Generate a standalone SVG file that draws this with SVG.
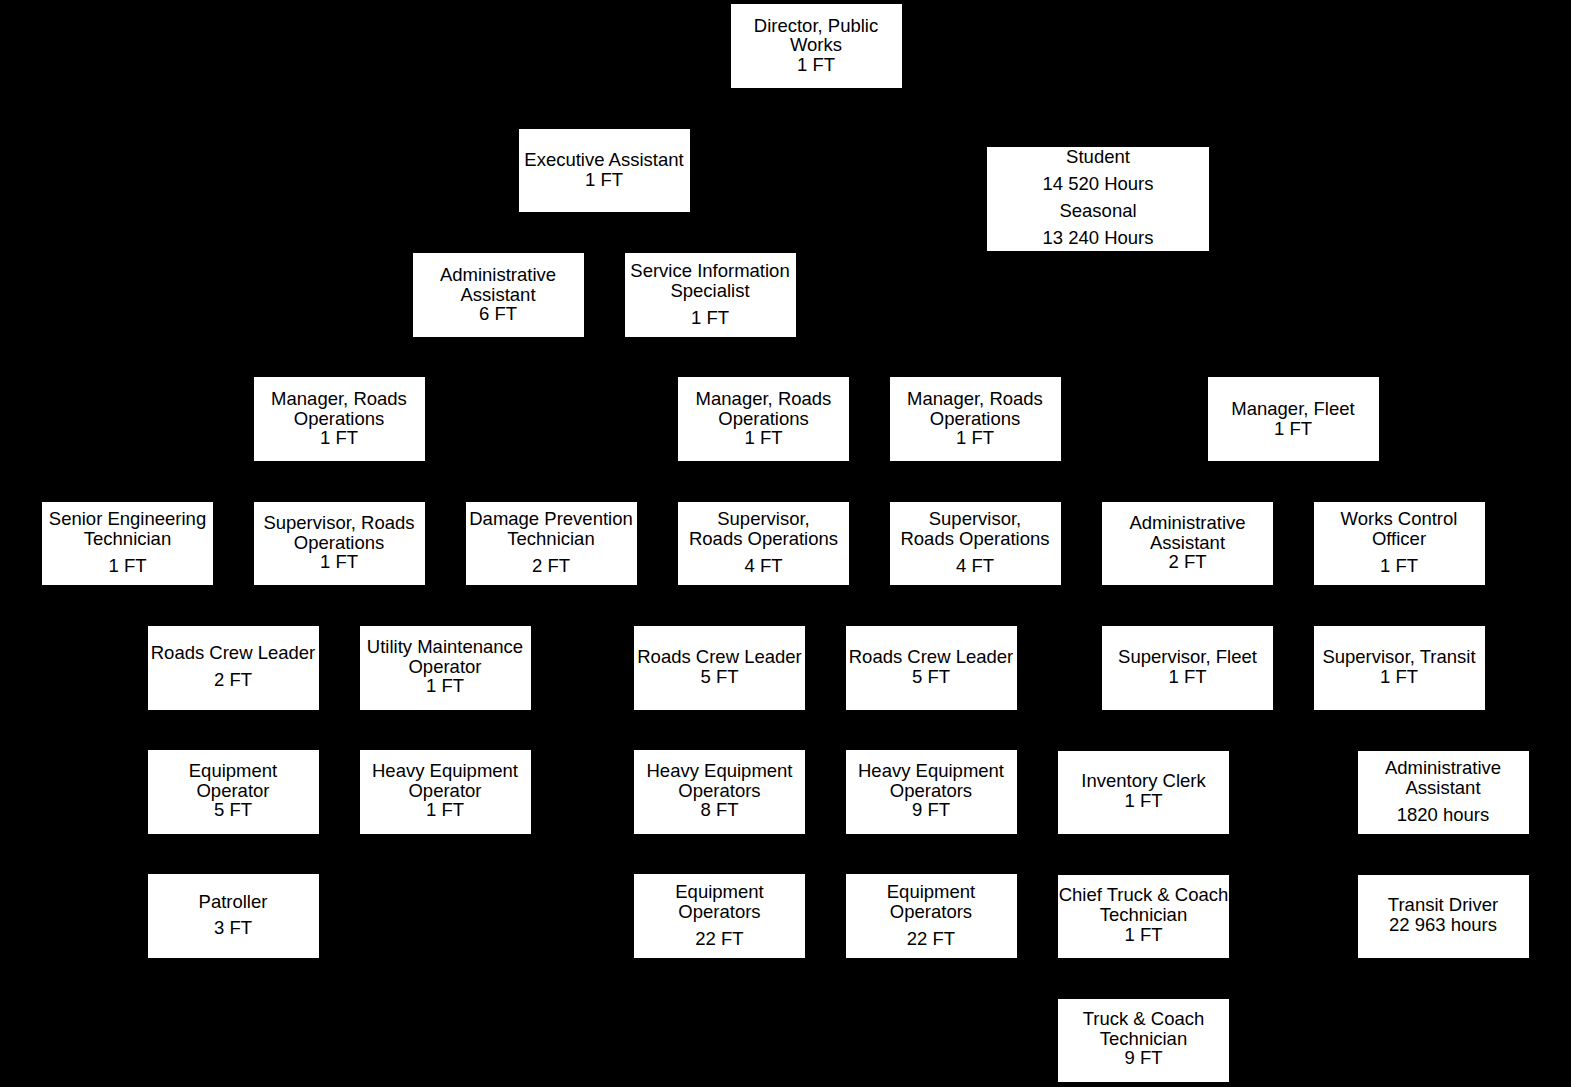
<svg xmlns="http://www.w3.org/2000/svg" width="1571" height="1087" viewBox="0 0 1571 1087">
<style>
.box{fill:#fff;stroke:none}
text{font-family:"Liberation Sans",Arial,sans-serif;font-size:18.5px;fill:#000;text-anchor:middle}
.con{stroke:#000;stroke-width:1.5;fill:none}
</style>
<rect x="0" y="0" width="1571" height="1087" fill="#000"/>
<g id="connectors">
<path class="con" d="M816 88 V250 M604 212 V253 M816 120 H1098 V147"/>
</g>
<g id="director"><rect class="box" x="731" y="4" width="171" height="84"/><text x="816" y="31.5">Director, Public</text><text x="816" y="51">Works</text><text x="816" y="70.5">1 FT</text></g>
<g id="exec-assistant"><rect class="box" x="519" y="129" width="171" height="83"/><text x="604" y="165.5">Executive Assistant</text><text x="604" y="185.5">1 FT</text></g>
<g id="student"><rect class="box" x="987" y="147" width="222" height="104"/><text x="1098" y="162.5">Student</text><text x="1098" y="189.5">14 520 Hours</text><text x="1098" y="216.5">Seasonal</text><text x="1098" y="243.5">13 240 Hours</text></g>
<g id="admin-assistant-6"><rect class="box" x="413" y="253" width="171" height="84"/><text x="498" y="280.5">Administrative</text><text x="498" y="300.5">Assistant</text><text x="498" y="319.5">6 FT</text></g>
<g id="service-info"><rect class="box" x="625" y="253" width="171" height="84"/><text x="710" y="276.5">Service Information</text><text x="710" y="296.5">Specialist</text><text x="710" y="323.5">1 FT</text></g>
<g id="mgr-roads-1"><rect class="box" x="254" y="377" width="171" height="84"/><text x="339" y="404.5">Manager, Roads</text><text x="339" y="424.5">Operations</text><text x="339" y="443.5">1 FT</text></g>
<g id="mgr-roads-2"><rect class="box" x="678" y="377" width="171" height="84"/><text x="763.5" y="404.5">Manager, Roads</text><text x="763.5" y="424.5">Operations</text><text x="763.5" y="443.5">1 FT</text></g>
<g id="mgr-roads-3"><rect class="box" x="890" y="377" width="171" height="84"/><text x="975" y="404.5">Manager, Roads</text><text x="975" y="424.5">Operations</text><text x="975" y="443.5">1 FT</text></g>
<g id="mgr-fleet"><rect class="box" x="1208" y="377" width="171" height="84"/><text x="1293" y="414.5">Manager, Fleet</text><text x="1293" y="434.5">1 FT</text></g>
<g id="senior-eng"><rect class="box" x="42" y="502" width="171" height="83"/><text x="127.5" y="524.5">Senior Engineering</text><text x="127.5" y="544.5">Technician</text><text x="127.5" y="571.5">1 FT</text></g>
<g id="sup-roads-1"><rect class="box" x="254" y="502" width="171" height="83"/><text x="339" y="528.5">Supervisor, Roads</text><text x="339" y="548.5">Operations</text><text x="339" y="567.5">1 FT</text></g>
<g id="damage-prev"><rect class="box" x="466" y="502" width="171" height="83"/><text x="551" y="524.5">Damage Prevention</text><text x="551" y="544.5">Technician</text><text x="551" y="571.5">2 FT</text></g>
<g id="sup-roads-2"><rect class="box" x="678" y="502" width="171" height="83"/><text x="763.5" y="524.5">Supervisor,</text><text x="763.5" y="544.5">Roads Operations</text><text x="763.5" y="571.5">4 FT</text></g>
<g id="sup-roads-3"><rect class="box" x="890" y="502" width="171" height="83"/><text x="975" y="524.5">Supervisor,</text><text x="975" y="544.5">Roads Operations</text><text x="975" y="571.5">4 FT</text></g>
<g id="admin-assistant-2"><rect class="box" x="1102" y="502" width="171" height="83"/><text x="1187.5" y="528.5">Administrative</text><text x="1187.5" y="548.5">Assistant</text><text x="1187.5" y="567.5">2 FT</text></g>
<g id="works-control"><rect class="box" x="1314" y="502" width="171" height="83"/><text x="1399" y="524.5">Works Control</text><text x="1399" y="544.5">Officer</text><text x="1399" y="571.5">1 FT</text></g>
<g id="crew-leader-1"><rect class="box" x="148" y="626" width="171" height="84"/><text x="233" y="658.5">Roads Crew Leader</text><text x="233" y="685.5">2 FT</text></g>
<g id="utility-maint"><rect class="box" x="360" y="626" width="171" height="84"/><text x="445" y="652.5">Utility Maintenance</text><text x="445" y="672.5">Operator</text><text x="445" y="691.5">1 FT</text></g>
<g id="crew-leader-2"><rect class="box" x="634" y="626" width="171" height="84"/><text x="719.5" y="662.5">Roads Crew Leader</text><text x="719.5" y="682.5">5 FT</text></g>
<g id="crew-leader-3"><rect class="box" x="846" y="626" width="171" height="84"/><text x="931" y="662.5">Roads Crew Leader</text><text x="931" y="682.5">5 FT</text></g>
<g id="sup-fleet"><rect class="box" x="1102" y="626" width="171" height="84"/><text x="1187.5" y="662.5">Supervisor, Fleet</text><text x="1187.5" y="682.5">1 FT</text></g>
<g id="sup-transit"><rect class="box" x="1314" y="626" width="171" height="84"/><text x="1399" y="662.5">Supervisor, Transit</text><text x="1399" y="682.5">1 FT</text></g>
<g id="equip-operator-5"><rect class="box" x="148" y="750" width="171" height="84"/><text x="233" y="776.5">Equipment</text><text x="233" y="796.5">Operator</text><text x="233" y="815.5">5 FT</text></g>
<g id="heavy-equip-1"><rect class="box" x="360" y="750" width="171" height="84"/><text x="445" y="776.5">Heavy Equipment</text><text x="445" y="796.5">Operator</text><text x="445" y="815.5">1 FT</text></g>
<g id="heavy-equip-8"><rect class="box" x="634" y="750" width="171" height="84"/><text x="719.5" y="776.5">Heavy Equipment</text><text x="719.5" y="796.5">Operators</text><text x="719.5" y="815.5">8 FT</text></g>
<g id="heavy-equip-9"><rect class="box" x="846" y="750" width="171" height="84"/><text x="931" y="776.5">Heavy Equipment</text><text x="931" y="796.5">Operators</text><text x="931" y="815.5">9 FT</text></g>
<g id="inventory-clerk"><rect class="box" x="1058" y="751" width="171" height="83"/><text x="1143.5" y="786.5">Inventory Clerk</text><text x="1143.5" y="806.5">1 FT</text></g>
<g id="admin-assistant-1820"><rect class="box" x="1358" y="751" width="171" height="83"/><text x="1443" y="773.5">Administrative</text><text x="1443" y="793.5">Assistant</text><text x="1443" y="820.5">1820 hours</text></g>
<g id="patroller"><rect class="box" x="148" y="874" width="171" height="84"/><text x="233" y="907.5">Patroller</text><text x="233" y="933.5">3 FT</text></g>
<g id="equip-operators-22a"><rect class="box" x="634" y="874" width="171" height="84"/><text x="719.5" y="897.5">Equipment</text><text x="719.5" y="917.5">Operators</text><text x="719.5" y="944.5">22 FT</text></g>
<g id="equip-operators-22b"><rect class="box" x="846" y="874" width="171" height="84"/><text x="931" y="897.5">Equipment</text><text x="931" y="917.5">Operators</text><text x="931" y="944.5">22 FT</text></g>
<g id="chief-truck"><rect class="box" x="1058" y="875" width="171" height="83"/><text x="1143.5" y="900.5">Chief Truck &amp; Coach</text><text x="1143.5" y="920.5">Technician</text><text x="1143.5" y="940.5">1 FT</text></g>
<g id="transit-driver"><rect class="box" x="1358" y="875" width="171" height="83"/><text x="1443" y="910.5">Transit Driver</text><text x="1443" y="930.5">22 963 hours</text></g>
<g id="truck-coach-tech"><rect class="box" x="1058" y="999" width="171" height="83"/><text x="1143.5" y="1024.5">Truck &amp; Coach</text><text x="1143.5" y="1044.5">Technician</text><text x="1143.5" y="1063.5">9 FT</text></g>
</svg>
